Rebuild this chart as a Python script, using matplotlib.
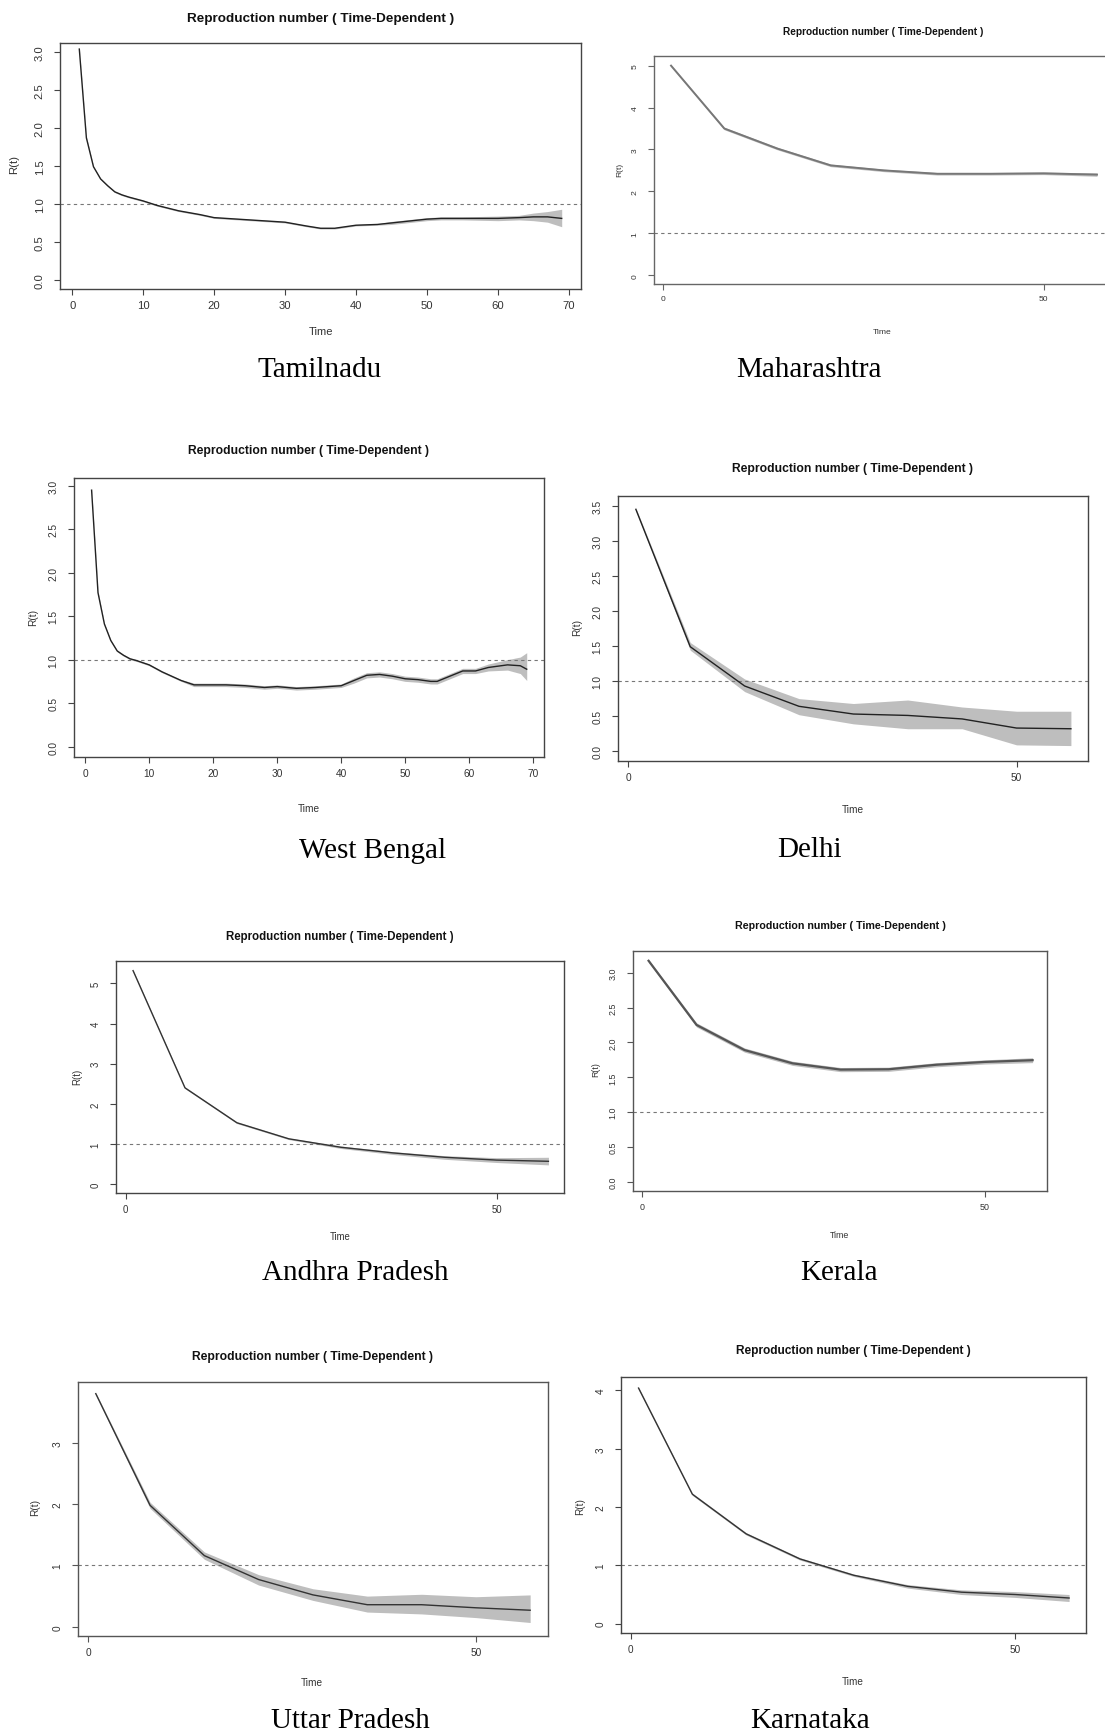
import matplotlib
matplotlib.use('Agg')
import matplotlib.pyplot as plt

W, H = 1105, 1733

# ---------------- data ----------------
TN_t = [1, 2, 3, 4, 5, 6, 7, 8, 10, 12, 15, 18, 20, 25, 30, 33, 35, 37, 40, 43, 45, 50, 52, 55, 60, 63, 65, 67, 69]
TN_R = [3.04, 1.87, 1.49, 1.33, 1.24, 1.16, 1.12, 1.09, 1.04, 0.98, 0.91, 0.86, 0.82, 0.79, 0.76, 0.71, 0.68, 0.68,
        0.72, 0.73, 0.75, 0.80, 0.81, 0.81, 0.81, 0.82, 0.83, 0.83, 0.81]
TN_lo = [3.02, 1.85, 1.48, 1.32, 1.23, 1.15, 1.11, 1.08, 1.03, 0.97, 0.90, 0.85, 0.81, 0.78, 0.75, 0.70, 0.67, 0.67,
         0.71, 0.72, 0.73, 0.78, 0.79, 0.79, 0.78, 0.79, 0.78, 0.76, 0.70]
TN_hi = [3.06, 1.89, 1.50, 1.34, 1.25, 1.17, 1.13, 1.10, 1.05, 0.99, 0.92, 0.87, 0.83, 0.80, 0.77, 0.72, 0.69, 0.69,
         0.73, 0.74, 0.77, 0.82, 0.83, 0.83, 0.84, 0.85, 0.88, 0.90, 0.93]

WB_t = [1, 2, 3, 4, 5, 6, 7, 8, 10, 12, 15, 17, 20, 22, 25, 28, 30, 33, 36, 38, 40, 42, 44, 46, 48, 50, 52, 54, 55,
        56, 57, 59, 61, 63, 66, 68, 69]
WB_R = [2.95, 1.77, 1.41, 1.22, 1.10, 1.05, 1.01, 0.99, 0.94, 0.86, 0.76, 0.71, 0.71, 0.71, 0.70, 0.68, 0.69, 0.67,
        0.68, 0.69, 0.70, 0.76, 0.82, 0.83, 0.81, 0.78, 0.77, 0.75, 0.75, 0.78, 0.81, 0.87, 0.87, 0.91, 0.94, 0.93, 0.89]
WB_lo = [2.93, 1.75, 1.40, 1.21, 1.09, 1.04, 1.00, 0.98, 0.93, 0.85, 0.75, 0.69, 0.69, 0.69, 0.68, 0.66, 0.67, 0.65,
         0.66, 0.67, 0.68, 0.73, 0.79, 0.80, 0.78, 0.75, 0.74, 0.72, 0.72, 0.75, 0.78, 0.84, 0.84, 0.87, 0.88, 0.84, 0.76]
WB_hi = [2.97, 1.79, 1.42, 1.23, 1.11, 1.06, 1.02, 1.00, 0.95, 0.87, 0.77, 0.73, 0.73, 0.73, 0.72, 0.70, 0.71, 0.69,
         0.70, 0.71, 0.72, 0.79, 0.85, 0.86, 0.84, 0.81, 0.80, 0.78, 0.78, 0.81, 0.84, 0.90, 0.90, 0.95, 1.00, 1.03, 1.08]

WK_t = [1, 8, 15, 22, 29, 36, 43, 50, 57]

MH_R = [5.00, 3.50, 3.02, 2.62, 2.50, 2.42, 2.42, 2.43, 2.40]
MH_lo = [4.98, 3.47, 2.99, 2.59, 2.47, 2.39, 2.39, 2.40, 2.36]
MH_hi = [5.02, 3.53, 3.05, 2.65, 2.53, 2.45, 2.45, 2.46, 2.44]

DL_R = [3.45, 1.49, 0.93, 0.64, 0.53, 0.51, 0.46, 0.33, 0.32]
DL_lo = [3.43, 1.44, 0.85, 0.52, 0.39, 0.32, 0.32, 0.09, 0.08]
DL_hi = [3.47, 1.55, 1.03, 0.75, 0.68, 0.73, 0.63, 0.57, 0.57]

AP_R = [5.32, 2.40, 1.53, 1.13, 0.92, 0.78, 0.67, 0.60, 0.57]
AP_lo = [5.30, 2.38, 1.51, 1.11, 0.89, 0.74, 0.62, 0.54, 0.48]
AP_hi = [5.34, 2.42, 1.55, 1.15, 0.95, 0.81, 0.71, 0.66, 0.67]

KL_R = [3.17, 2.25, 1.89, 1.70, 1.61, 1.615, 1.68, 1.72, 1.745]
KL_lo = [3.15, 2.22, 1.86, 1.67, 1.58, 1.585, 1.65, 1.69, 1.71]
KL_hi = [3.19, 2.28, 1.92, 1.73, 1.64, 1.645, 1.71, 1.75, 1.78]

UP_R = [3.80, 1.98, 1.16, 0.77, 0.52, 0.36, 0.36, 0.31, 0.27]
UP_lo = [3.78, 1.93, 1.10, 0.68, 0.43, 0.24, 0.21, 0.15, 0.07]
UP_hi = [3.82, 2.03, 1.22, 0.85, 0.62, 0.50, 0.53, 0.49, 0.52]

KA_R = [4.04, 2.22, 1.54, 1.11, 0.83, 0.64, 0.54, 0.50, 0.44]
KA_lo = [4.02, 2.20, 1.52, 1.09, 0.81, 0.61, 0.50, 0.45, 0.38]
KA_hi = [4.06, 2.24, 1.56, 1.13, 0.85, 0.67, 0.58, 0.55, 0.50]

X_TICKS_LONG = [0, 10, 20, 30, 40, 50, 60, 70]
X_TICKS_SHORT = [0, 50]
Y_TICKS_HALF3 = [0.0, 0.5, 1.0, 1.5, 2.0, 2.5, 3.0]
Y_LABELS_HALF3 = ['0.0', '0.5', '1.0', '1.5', '2.0', '2.5', '3.0']
Y_TICKS_HALF35 = [0.0, 0.5, 1.0, 1.5, 2.0, 2.5, 3.0, 3.5]
Y_LABELS_HALF35 = ['0.0', '0.5', '1.0', '1.5', '2.0', '2.5', '3.0', '3.5']
Y_TICKS_INT3 = [0, 1, 2, 3]
Y_TICKS_INT4 = [0, 1, 2, 3, 4]
Y_TICKS_INT5 = [0, 1, 2, 3, 4, 5]

TITLE = 'Reproduction number ( Time-Dependent )'
STATES = ['Tamilnadu', 'Maharashtra', 'West Bengal', 'Delhi',
          'Andhra Pradesh', 'Kerala', 'Uttar Pradesh', 'Karnataka']

# ---------------- layout ----------------
panels = [
    dict(t=TN_t, r=TN_R, lo=TN_lo, hi=TN_hi, box=(60, 44, 581, 290), xlim=(-1.72, 71.72), ylim=(-0.12, 3.12),
         xt=X_TICKS_LONG, yt=Y_TICKS_HALF3, ytl=Y_LABELS_HALF3, title=(321, 19), time=(321, 332), rt=(14, 165),
         cap=(320, 370), fs=9.7, col='#222222', lw=1.0, spine='#444444'),
    dict(t=WK_t, r=MH_R, lo=MH_lo, hi=MH_hi, box=(654, 57, 1114, 285), xlim=(-1.24, 59.24), ylim=(-0.21, 5.23),
         xt=X_TICKS_SHORT, yt=Y_TICKS_INT5, ytl=[str(v) for v in Y_TICKS_INT5], title=(883, 32), time=(882, 332),
         rt=(620, 170), cap=(809, 370), fs=7.3, col='#777777', lw=1.4, spine='#666666'),
    dict(t=WB_t, r=WB_R, lo=WB_lo, hi=WB_hi, box=(74, 479, 544, 758), xlim=(-1.75, 71.7), ylim=(-0.12, 3.09),
         xt=X_TICKS_LONG, yt=Y_TICKS_HALF3, ytl=Y_LABELS_HALF3, title=(309, 451), time=(309, 809), rt=(33, 618),
         cap=(373, 851), fs=8.7, col='#222222', lw=1.0, spine='#444444'),
    dict(t=WK_t, r=DL_R, lo=DL_lo, hi=DL_hi, box=(618, 497, 1088, 762), xlim=(-1.3, 59.2), ylim=(-0.14, 3.64),
         xt=X_TICKS_SHORT, yt=Y_TICKS_HALF35, ytl=Y_LABELS_HALF35, title=(853, 469), time=(853, 810),
         rt=(577, 628), cap=(810, 850), fs=8.7, col='#222222', lw=1.0, spine='#444444'),
    dict(t=WK_t, r=AP_R, lo=AP_lo, hi=AP_hi, box=(116, 962, 564, 1194), xlim=(-1.3, 59.1), ylim=(-0.22, 5.56),
         xt=X_TICKS_SHORT, yt=Y_TICKS_INT5, ytl=[str(v) for v in Y_TICKS_INT5], title=(340, 937), time=(340, 1237),
         rt=(77, 1077), cap=(355, 1273), fs=8.3, col='#333333', lw=1.0, spine='#444444'),
    dict(t=WK_t, r=KL_R, lo=KL_lo, hi=KL_hi, box=(633, 952, 1047, 1192), xlim=(-1.27, 59.1), ylim=(-0.13, 3.31),
         xt=X_TICKS_SHORT, yt=Y_TICKS_HALF3, ytl=Y_LABELS_HALF3, title=(840, 926), time=(840, 1236), rt=(596, 1070),
         cap=(839, 1273), fs=7.7, col='#555555', lw=1.6, spine='#555555'),
    dict(t=WK_t, r=UP_R, lo=UP_lo, hi=UP_hi, box=(78, 1383, 548, 1637), xlim=(-1.29, 59.3), ylim=(-0.15, 3.99),
         xt=X_TICKS_SHORT, yt=Y_TICKS_INT3, ytl=[str(v) for v in Y_TICKS_INT3], title=(312, 1357), time=(312, 1683),
         rt=(35, 1508), cap=(350, 1721), fs=8.7, col='#333333', lw=1.0, spine='#555555'),
    dict(t=WK_t, r=KA_R, lo=KA_lo, hi=KA_hi, box=(621, 1378, 1086, 1634), xlim=(-1.28, 59.2), ylim=(-0.16, 4.23),
         xt=X_TICKS_SHORT, yt=Y_TICKS_INT4, ytl=[str(v) for v in Y_TICKS_INT4], title=(853, 1351), time=(853, 1682),
         rt=(580, 1507), cap=(810, 1721), fs=8.6, col='#333333', lw=1.0, spine='#444444'),
]

SANS = ['Liberation Sans', 'DejaVu Sans']
SERIF = ['Liberation Serif', 'DejaVu Serif']

fig = plt.figure(figsize=(W / 100, H / 100), dpi=100)
fig.patch.set_facecolor('white')


def ftext(xy, s, **kw):
    fig.text(xy[0] / W, 1 - xy[1] / H, s, ha='center', va='center', **kw)


for name, p in zip(STATES, panels):
    l, t, r, b = p['box']
    ax = fig.add_axes([l / W, 1 - b / H, (r - l) / W, (b - t) / H])
    ax.fill_between(p['t'], p['lo'], p['hi'], color='#bebebe', linewidth=0, zorder=1)
    ax.plot(p['t'], p['r'], color=p['col'], lw=p['lw'], zorder=3)
    ax.axhline(1.0, color='#777777', lw=0.8, dashes=(3, 3), zorder=2)
    ax.set_xlim(*p['xlim'])
    ax.set_ylim(*p['ylim'])
    ax.set_xticks(p['xt'])
    ax.set_yticks(p['yt'])
    ax.set_yticklabels(p['ytl'])
    tfs = p['fs'] / 1.2
    ax.tick_params(axis='both', direction='out', length=4, width=0.8, colors=p['spine'],
                   labelcolor='#333333', labelsize=tfs)
    ax.tick_params(axis='x', pad=4)
    ax.tick_params(axis='y', pad=7, labelrotation=90)
    for lab in ax.get_yticklabels():
        lab.set_va('center')
        lab.set_family(SANS)
    for lab in ax.get_xticklabels():
        lab.set_family(SANS)
    for sp in ax.spines.values():
        sp.set_color(p['spine'])
        sp.set_linewidth(1.0)
    ax.set_facecolor('white')

    ftext(p['title'], TITLE, fontsize=p['fs'], fontweight='bold', family=SANS, color='#111111')
    ftext(p['time'], 'Time', fontsize=tfs, family=SANS, color='#333333')
    ftext(p['rt'], 'R(t)', fontsize=tfs, family=SANS, color='#333333', rotation=90)
    ftext(p['cap'], name, fontsize=21, family=SERIF, color='black')

fig.savefig('out.png', dpi=100, facecolor='white')
